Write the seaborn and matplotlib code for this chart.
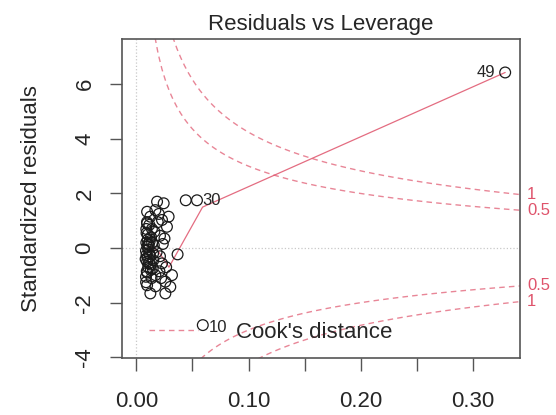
import numpy as np
import pandas as pd
import matplotlib
matplotlib.use("Agg")
import matplotlib.pyplot as plt
from matplotlib.lines import Line2D
import seaborn as sns

# Leverage and standardized residual of each observation
leverage = [
    0.0184, 0.0243, 0.0095, 0.0169, 0.0287, 0.0228, 0.0124, 0.0272, 0.0095,
    0.0124, 0.0258, 0.0095, 0.0302, 0.0317, 0.0228, 0.0169, 0.0258,
    0.0090, 0.0100, 0.0110, 0.0085, 0.0120, 0.0095, 0.0105, 0.0088, 0.0130,
    0.0115, 0.0092, 0.0140, 0.0150, 0.0160, 0.0200, 0.0210, 0.0180, 0.0190,
    0.0220, 0.0135, 0.0145, 0.0098, 0.0250, 0.0170, 0.0210, 0.0085, 0.0105,
    0.0125, 0.0090, 0.0115, 0.0155, 0.0082, 0.0088, 0.0096, 0.0102, 0.0108,
    0.0112, 0.0118, 0.0086, 0.0094, 0.0100, 0.0128, 0.0138, 0.0148, 0.0205,
    0.0235, 0.0265,
    0.0367, 0.0440, 0.0540, 0.0592, 0.3290,
]
std_resid = [
    1.70, 1.64, 1.33, 1.39, 1.15, 1.03, 1.15, 0.78, 0.90,
    -1.66, -1.66, -1.36, -1.42, -0.99, -0.56, -0.99, -1.23,
    0.55, 0.30, 0.10, -0.10, -0.30, -0.50, -0.70, 0.70, 0.40,
    -0.20, -0.85, 0.20, -0.45, 0.60, 1.25, 0.45, -0.15, 0.95,
    -1.10, -1.10, -0.75, 0.05, 0.35, -1.40, -0.30, -1.05, 0.15,
    -0.60, -0.25, 0.85, 0.10, -0.40, 0.20, -0.90, 0.50, -0.05,
    -0.55, 0.25, -1.25, 0.95, -0.35, -0.80, 0.70, -0.20, -0.85,
    0.15, -0.70,
    -0.23, 1.75, 1.75, -2.82, 6.43,
]
# Labelled observations
id_labels = ["49", "30", "10"]
id_lev = [0.3290, 0.0540, 0.0592]
id_res = [6.43, 1.75, -2.82]

# Lowess smoother through the points
smooth_lev = [0.0085, 0.0120, 0.0160, 0.0200, 0.0250, 0.0290, 0.0590, 0.3290]
smooth_res = [0.10, 0.05, 0.00, -0.15, -0.45, -0.70, 1.50, 6.43]

# Cook's distance contours
n_params = 2
cook_levels = [0.5, 1.0]
cook_labels = ["0.5", "1"]

x_ticks = [0.00, 0.05, 0.10, 0.15, 0.20, 0.25, 0.30]
x_ticklabels = ["0.00", "", "0.10", "", "0.20", "", "0.30"]
y_ticks = [-4, -2, 0, 2, 4, 6]
y_ticklabels = ["-4", "-2", "0", "2", "4", "6"]

sns.set_theme(style="white")
plt.rcParams["font.family"] = ["Liberation Sans", "DejaVu Sans"]

RED = "#DF536B"
TXT = "#262626"

fig = plt.figure(figsize=(5.56, 4.15), dpi=100)
ax = fig.add_axes([0.219, 0.137, 0.716, 0.768])

xlim = (-0.0131, 0.3421)
ylim = (-4.03, 7.64)

# reference lines at zero
ax.axhline(0, ls=":", color="#C8C8C8", lw=0.9, zorder=0)
ax.axvline(0, ls=":", color="#C8C8C8", lw=0.9, zorder=0)

df = pd.DataFrame({"leverage": leverage, "resid": std_resid})
sns.scatterplot(data=df, x="leverage", y="resid", ax=ax, marker="o", s=60,
                facecolors="none", edgecolor="#1a1a1a", linewidth=0.9, zorder=3)

sm = pd.DataFrame({"leverage": smooth_lev, "resid": smooth_res})
sns.lineplot(data=sm, x="leverage", y="resid", ax=ax, sort=False,
             estimator=None, color=RED, lw=0.9, alpha=0.85, zorder=2)

hh = np.linspace(0.006, xlim[1], 101)
for lvl, lab in zip(cook_levels, cook_labels):
    r = np.sqrt(lvl * n_params * (1 - hh) / hh)
    for sgn in (1, -1):
        cd = pd.DataFrame({"h": hh, "r": sgn * r})
        sns.lineplot(data=cd, x="h", y="r", ax=ax, sort=False, estimator=None,
                     color=RED, lw=1.0, alpha=0.7, linestyle=(0, (4, 3)),
                     zorder=1)
        r_end = sgn * np.sqrt(lvl * n_params * (1 - xlim[1]) / xlim[1])
        ax.text(1.018, r_end, lab, transform=ax.get_yaxis_transform(),
                color=RED, fontsize=12, ha="left", va="center", clip_on=False)

# observation ids
for lab, lx, ly in zip(id_labels, id_lev, id_res):
    if lx > 0.2:
        ax.annotate(lab, (lx, ly), xytext=(-7, 0), textcoords="offset points",
                    ha="right", va="center", fontsize=12, color=TXT)
    else:
        ax.annotate(lab, (lx, ly), xytext=(4, -2 if ly < 0 else 0),
                    textcoords="offset points",
                    ha="left", va="center", fontsize=12, color=TXT)

ax.set_xlim(*xlim)
ax.set_ylim(*ylim)
ax.set_xticks(x_ticks)
ax.set_xticklabels(x_ticklabels)
ax.set_yticks(y_ticks)
ax.set_yticklabels(y_ticklabels, rotation=90, va="center")
ax.tick_params(axis="both", which="both", direction="out", length=9,
               width=1.0, color="#555555", labelsize=16, labelcolor=TXT,
               bottom=True, left=True)
ax.tick_params(axis="x", pad=15)
ax.tick_params(axis="y", pad=10)
for sp in ax.spines.values():
    sp.set_color("#555555")
    sp.set_linewidth(1.2)

ax.set_xlabel("")
ax.set_ylabel("Standardized residuals", fontsize=16, color=TXT)
ax.yaxis.set_label_coords(-0.200, 0.5)
ax.set_title("Residuals vs Leverage", fontsize=16, color=TXT, pad=7)

handle = Line2D([], [], color=RED, lw=1.0, alpha=0.7, linestyle=(0, (4, 3)))
leg = ax.legend([handle], ["Cook's distance"], loc="center left",
                bbox_to_anchor=(0.068, 0.080), frameon=False, fontsize=16,
                handlelength=2.2, handletextpad=1.7, borderpad=0,
                borderaxespad=0, labelcolor=TXT)

fig.savefig("out.png", dpi=100)
